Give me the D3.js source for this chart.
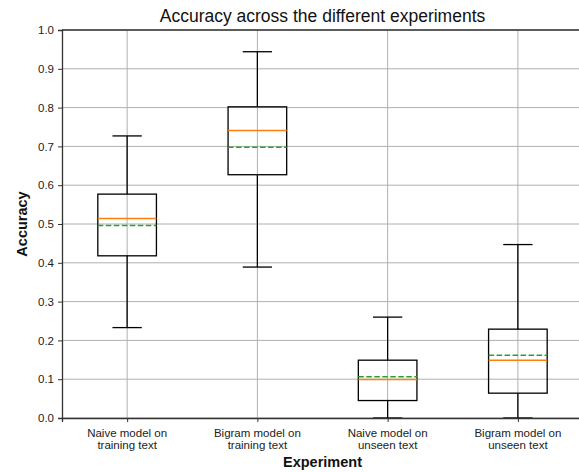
<!DOCTYPE html>
<html lang="en">
<head>
  <meta charset="UTF-8" />
  <title>Accuracy across the different experiments</title>
  <style>
    body { margin: 0; background: #fff; }
    svg { display: block; font-family: "Liberation Sans", Arial, sans-serif; }
  </style>
</head>
<body>
  <div id="chart"></div>
  <script src="https://d3js.org/d3.v7.min.js"></script>
  <script>
    const categories = [
      ['Naive model on', 'training text'],
      ['Bigram model on', 'training text'],
      ['Naive model on', 'unseen text'],
      ['Bigram model on', 'unseen text']
    ];
    const whiskerLow = [0.233, 0.389, 0.0, 0.0];
    const q1 = [0.418, 0.627, 0.045, 0.064];
    const median = [0.514, 0.741, 0.099, 0.149];
    const mean = [0.496, 0.698, 0.106, 0.162];
    const q3 = [0.577, 0.802, 0.149, 0.229];
    const whiskerHigh = [0.727, 0.944, 0.260, 0.447];
    const yTicks = [0, 0.1, 0.2, 0.3, 0.4, 0.5, 0.6, 0.7, 0.8, 0.9, 1.0];

    const width = 579, height = 472;
    const margin = { top: 30, right: -4, bottom: 54, left: 62 };

    const svg = d3.select('#chart').append('svg')
      .attr('width', width)
      .attr('height', height);

    const x = d3.scaleLinear().domain([0.5, 4.5]).range([margin.left, width - margin.right]);
    const y = d3.scaleLinear().domain([0, 1]).range([height - margin.bottom, margin.top]);

    const boxW = 0.45, capW = 0.225;
    const idx = d3.range(categories.length);

    // grid
    svg.append('g').selectAll('line').data(yTicks).join('line')
      .attr('x1', margin.left).attr('x2', width)
      .attr('y1', d => y(d)).attr('y2', d => y(d))
      .attr('stroke', '#b0b0b0').attr('stroke-width', 1);
    svg.append('g').selectAll('line').data(idx).join('line')
      .attr('x1', i => x(i + 1)).attr('x2', i => x(i + 1))
      .attr('y1', y(0)).attr('y2', y(1))
      .attr('stroke', '#b0b0b0').attr('stroke-width', 1);

    const g = svg.append('g').attr('fill', 'none').attr('stroke', '#000').attr('stroke-width', 1.3);

    // whiskers
    g.selectAll('.wlo').data(idx).join('line')
      .attr('x1', i => x(i + 1)).attr('x2', i => x(i + 1))
      .attr('y1', i => y(q1[i])).attr('y2', i => y(whiskerLow[i]));
    g.selectAll('.whi').data(idx).join('line')
      .attr('x1', i => x(i + 1)).attr('x2', i => x(i + 1))
      .attr('y1', i => y(q3[i])).attr('y2', i => y(whiskerHigh[i]));
    // caps
    [whiskerLow, whiskerHigh].forEach(arr => {
      g.append('g').selectAll('line').data(idx).join('line')
        .attr('x1', i => x(i + 1 - capW / 2)).attr('x2', i => x(i + 1 + capW / 2))
        .attr('y1', i => y(arr[i])).attr('y2', i => y(arr[i]));
    });
    // boxes
    g.append('g').selectAll('rect').data(idx).join('rect')
      .attr('x', i => x(i + 1 - boxW / 2))
      .attr('width', x(1 + boxW) - x(1))
      .attr('y', i => y(q3[i]))
      .attr('height', i => y(q1[i]) - y(q3[i]));
    // medians
    svg.append('g').selectAll('line').data(idx).join('line')
      .attr('x1', i => x(i + 1 - boxW / 2)).attr('x2', i => x(i + 1 + boxW / 2))
      .attr('y1', i => y(median[i])).attr('y2', i => y(median[i]))
      .attr('stroke', '#ff7f0e').attr('stroke-width', 1.5);
    // means
    svg.append('g').selectAll('line').data(idx).join('line')
      .attr('x1', i => x(i + 1 - boxW / 2)).attr('x2', i => x(i + 1 + boxW / 2))
      .attr('y1', i => y(mean[i])).attr('y2', i => y(mean[i]))
      .attr('stroke', '#2ca02c').attr('stroke-width', 1.5)
      .attr('stroke-dasharray', '5.5,2.5');

    // axes
    const yAxis = svg.append('g')
      .attr('transform', `translate(${margin.left},0)`)
      .call(d3.axisLeft(y).tickValues(yTicks).tickFormat(d3.format('.1f')).tickSizeOuter(0).tickSize(4).tickPadding(4));
    const xAxis = svg.append('g')
      .attr('transform', `translate(0,${y(0)})`)
      .call(d3.axisBottom(x).tickValues([1, 2, 3, 4]).tickFormat('').tickSizeOuter(0).tickSize(4));
    [yAxis, xAxis].forEach(a => {
      a.select('.domain').attr('stroke', '#333').attr('stroke-width', 1.3);
      a.selectAll('.tick line').attr('stroke', '#333').attr('stroke-width', 1);
      a.selectAll('text').attr('font-size', '11.5px').attr('fill', '#222').attr('font-family', null);
    });
    // top spine
    svg.append('line')
      .attr('x1', margin.left).attr('x2', width)
      .attr('y1', y(1)).attr('y2', y(1))
      .attr('stroke', '#333').attr('stroke-width', 1.3);

    // category labels
    const lab = svg.append('g').attr('font-size', '11.5px').attr('fill', '#222').attr('text-anchor', 'middle');
    idx.forEach(i => {
      const t = lab.append('text').attr('x', x(i + 1)).attr('y', y(0) + 19);
      categories[i].forEach((s, k) => {
        t.append('tspan').attr('x', x(i + 1)).attr('dy', k === 0 ? 0 : 12).text(s);
      });
    });

    svg.append('text')
      .attr('x', (margin.left + width - margin.right) / 2).attr('y', 22)
      .attr('text-anchor', 'middle').attr('font-size', '17.5px').attr('fill', '#111')
      .text('Accuracy across the different experiments');
    svg.append('text')
      .attr('x', (margin.left + width - margin.right) / 2).attr('y', 467)
      .attr('text-anchor', 'middle').attr('font-size', '14.5px').attr('font-weight', 'bold').attr('fill', '#111')
      .text('Experiment');
    svg.append('text')
      .attr('transform', `translate(27,${(y(0) + y(1)) / 2}) rotate(-90)`)
      .attr('text-anchor', 'middle').attr('font-size', '14.5px').attr('font-weight', 'bold').attr('fill', '#111')
      .text('Accuracy');
  </script>
</body>
</html>
